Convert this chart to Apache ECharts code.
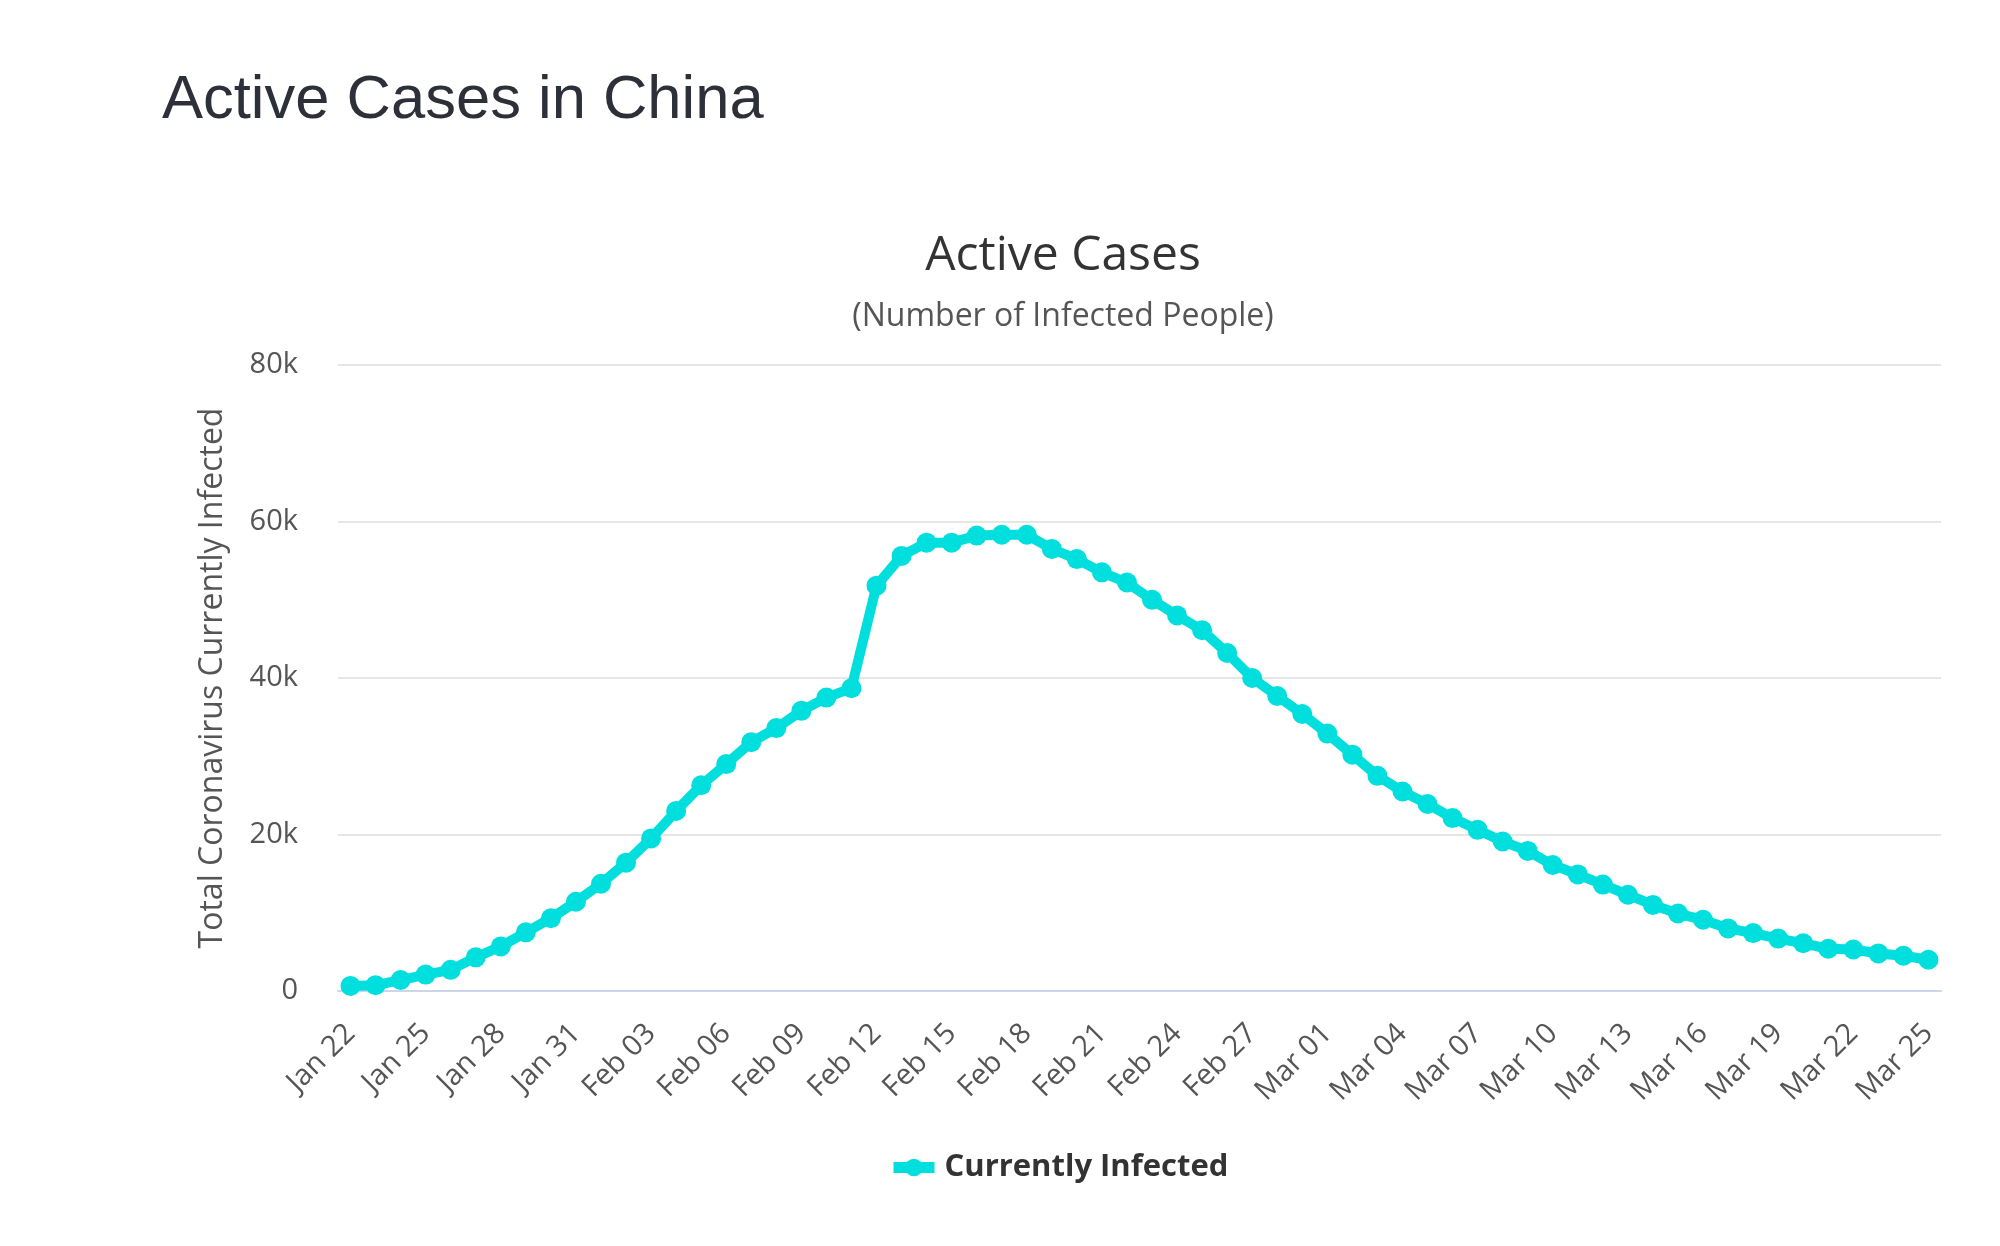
<!DOCTYPE html>
<html>
<head>
<meta charset="utf-8">
<title>Active Cases in China</title>
<script src="https://cdn.jsdelivr.net/npm/echarts/dist/echarts.min.js"></script>
<style>
  html, body { margin: 0; padding: 0; background: #ffffff; }
  #chart { width: 2000px; height: 1246px; }
</style>
</head>
<body>
<div id="chart"></div>
<script>
// dates on the x axis
const days = [
  'Jan 22', 'Jan 23', 'Jan 24', 'Jan 25', 'Jan 26', 'Jan 27', 'Jan 28', 'Jan 29', 'Jan 30', 'Jan 31',
  'Feb 01', 'Feb 02', 'Feb 03', 'Feb 04', 'Feb 05', 'Feb 06', 'Feb 07', 'Feb 08', 'Feb 09', 'Feb 10',
  'Feb 11', 'Feb 12', 'Feb 13', 'Feb 14', 'Feb 15', 'Feb 16', 'Feb 17', 'Feb 18', 'Feb 19', 'Feb 20',
  'Feb 21', 'Feb 22', 'Feb 23', 'Feb 24', 'Feb 25', 'Feb 26', 'Feb 27', 'Feb 28', 'Feb 29', 'Mar 01',
  'Mar 02', 'Mar 03', 'Mar 04', 'Mar 05', 'Mar 06', 'Mar 07', 'Mar 08', 'Mar 09', 'Mar 10', 'Mar 11',
  'Mar 12', 'Mar 13', 'Mar 14', 'Mar 15', 'Mar 16', 'Mar 17', 'Mar 18', 'Mar 19', 'Mar 20', 'Mar 21',
  'Mar 22', 'Mar 23', 'Mar 24', 'Mar 25'
];

// currently infected
const infected = [
  650, 750, 1400, 2100, 2700, 4300, 5700, 7500, 9300, 11400,
  13700, 16400, 19500, 23000, 26300, 29000, 31800, 33600, 35800, 37500,
  38700, 51800, 55600, 57300, 57300, 58200, 58300, 58300, 56500, 55200,
  53500, 52200, 50000, 48000, 46100, 43200, 40000, 37700, 35400, 32900,
  30200, 27500, 25500, 23900, 22100, 20600, 19100, 17900, 16100, 14900,
  13600, 12300, 11000, 9900, 9100, 8000, 7400, 6700, 6100, 5400,
  5300, 4800, 4500, 4000
];

const yTicks = [0, 20000, 40000, 60000, 80000];

const font = 'Open Sans';
const myChart = echarts.init(document.getElementById('chart'));
myChart.setOption({
  backgroundColor: '#ffffff',
  animation: false,
  title: [
    {
      text: 'Active Cases in China',
      left: 162,
      top: 70,
      padding: 0,
      textStyle: {
        fontFamily: 'Liberation Sans',
        fontSize: 61.5,
        fontWeight: 'normal',
        color: '#2d3039',
      },
    },
    {
      text: 'Active Cases',
      left: 1063,
      top: 232,
      padding: 0,
      textAlign: 'center',
      textStyle: {
        fontFamily: font,
        fontSize: 48,
        fontWeight: 'normal',
        color: '#333333',
      },
    },
    {
      text: '(Number of Infected People)',
      left: 1063,
      top: 301,
      padding: 0,
      textAlign: 'center',
      textStyle: {
        fontFamily: font,
        fontSize: 32,
        fontWeight: 'normal',
        color: '#555555',
      },
    },
  ],
  grid: {
    left: 338,
    right: 59,
    top: 365,
    bottom: 255,
  },
  legend: {
    data: ['Currently Infected'],
    left: 888,
    top: 1152,
    padding: 0,
    itemWidth: 41,
    itemHeight: 22,
    lineStyle: { width: 11 },
    textStyle: {
      fontFamily: font,
      fontSize: 31,
      fontWeight: 'bold',
      color: '#333333',
      padding: [0, 0, 0, 5],
    },
  },
  xAxis: {
    type: 'category',
    data: days,
    boundaryGap: true,
    axisTick: { show: false },
    axisLine: {
      lineStyle: { color: '#ccd6eb', width: 2 },
    },
    axisLabel: {
      interval: 2,
      rotate: 45,
      margin: 38,
      fontFamily: font,
      fontSize: 29,
      color: '#555555',
    },
  },
  yAxis: {
    type: 'value',
    min: yTicks[0],
    max: yTicks[yTicks.length - 1],
    interval: yTicks[1] - yTicks[0],
    name: 'Total Coronavirus Currently Infected',
    nameLocation: 'middle',
    nameRotate: 90,
    nameGap: 109,
    nameTextStyle: {
      fontFamily: font,
      fontSize: 32,
      color: '#555555',
    },
    axisLine: { show: false },
    axisTick: { show: false },
    splitLine: {
      lineStyle: { color: '#e6e6e6', width: 2 },
    },
    axisLabel: {
      margin: 40,
      padding: [8, 0, 0, 0],
      fontFamily: font,
      fontSize: 29,
      color: '#555555',
      formatter: v => (v === 0 ? '0' : v / 1000 + 'k'),
    },
  },
  series: [
    {
      name: 'Currently Infected',
      type: 'line',
      data: infected,
      symbol: 'circle',
      symbolSize: 20,
      showAllSymbol: true,
      itemStyle: { color: '#00dede' },
      lineStyle: { width: 10, color: '#00dede' },
    },
  ],
});
</script>
</body>
</html>
